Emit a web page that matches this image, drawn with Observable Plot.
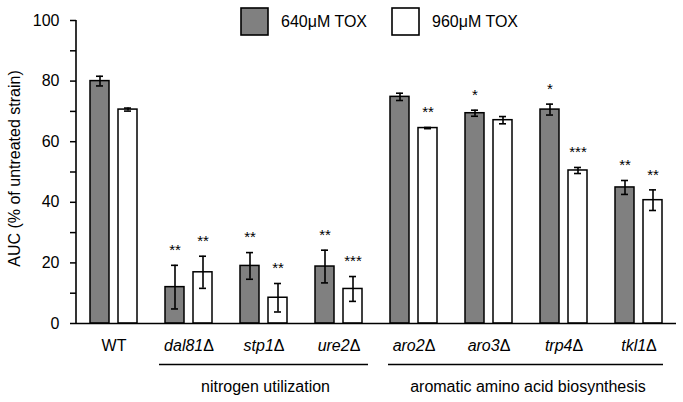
<!DOCTYPE html>
<html>
<head>
<meta charset="utf-8">
<script src="https://cdn.jsdelivr.net/npm/d3@7"></script>
<script src="https://cdn.jsdelivr.net/npm/@observablehq/plot@0.6"></script>
<style>
  body { margin: 0; background: #fff; }
  #chart svg { font-family: "Liberation Sans", Arial, sans-serif; }
</style>
</head>
<body>
<div id="chart"></div>
<script>
const strains = ["WT", "dal81", "stp1", "ure2", "aro2", "aro3", "trp4", "tkl1"];
const series = ["640μM TOX", "960μM TOX"];
const mean640 = [80.0, 12.0, 19.0, 18.8, 74.8, 69.4, 70.6, 44.9];
const err640  = [1.6, 7.2, 4.4, 5.4, 1.2, 1.0, 1.8, 2.3];
const sig640  = ["", "**", "**", "**", "", "*", "*", "**"];
const mean960 = [70.6, 16.9, 8.5, 11.4, 64.5, 67.1, 50.5, 40.7];
const err960  = [0.5, 5.3, 4.7, 4.1, 0.2, 1.2, 1.0, 3.4];
const sig960  = ["", "**", "**", "***", "**", "", "***", "**"];
const groupLabels = ["nitrogen utilization", "aromatic amino acid biosynthesis"];
const groupFrom = ["dal81", "aro2"];
const groupTo = ["ure2", "tkl1"];
const yMajor = [0, 20, 40, 60, 80, 100];
const yMinor = [10, 30, 50, 70, 90];

const d640 = strains.map((s, i) => ({strain: s, mean: mean640[i], lo: mean640[i] - err640[i], hi: mean640[i] + err640[i], sig: sig640[i]}));
const d960 = strains.map((s, i) => ({strain: s, mean: mean960[i], lo: mean960[i] - err960[i], hi: mean960[i] + err960[i], sig: sig960[i]}));
const groups = groupLabels.map((g, i) => ({label: g, from: groupFrom[i], to: groupTo[i]}));

const barW = 1.5;
const eb = 1.6;
const plot = Plot.plot({
  width: 683,
  height: 402,
  marginLeft: 76,
  marginRight: 7,
  marginTop: 20,
  marginBottom: 79,
  style: {fontFamily: "Liberation Sans, Arial, sans-serif", fontSize: "16px", color: "#000", background: "#fff"},
  x: {domain: strains, padding: 0, axis: null},
  y: {domain: [0, 100], axis: null},
  marks: [
    Plot.barY(d640, {x: "strain", y: "mean", fill: "#808080", stroke: "#000", strokeWidth: barW, insetLeft: 14, insetRight: 42}),
    Plot.barY(d960, {x: "strain", y: "mean", fill: "#fff", stroke: "#000", strokeWidth: barW, insetLeft: 42, insetRight: 14}),
    // error bars
    Plot.ruleX(d640, {x: "strain", y1: "lo", y2: "hi", dx: -14, stroke: "#000", strokeWidth: eb}),
    Plot.ruleX(d960, {x: "strain", y1: "lo", y2: "hi", dx: 14, stroke: "#000", strokeWidth: eb}),
    Plot.tickY(d640, {x: "strain", y: "lo", insetLeft: 20, insetRight: 48, stroke: "#000", strokeWidth: eb}),
    Plot.tickY(d640, {x: "strain", y: "hi", insetLeft: 20, insetRight: 48, stroke: "#000", strokeWidth: eb}),
    Plot.tickY(d960, {x: "strain", y: "lo", insetLeft: 48, insetRight: 20, stroke: "#000", strokeWidth: eb}),
    Plot.tickY(d960, {x: "strain", y: "hi", insetLeft: 48, insetRight: 20, stroke: "#000", strokeWidth: eb}),
    // significance stars
    Plot.text(d640, {x: "strain", y: "hi", text: "sig", dx: -14, dy: -15, fontSize: 15, fill: "#000"}),
    Plot.text(d960, {x: "strain", y: "hi", text: "sig", dx: 14, dy: -15, fontSize: 15, fill: "#000"}),
    // axes
    Plot.ruleY([0], {stroke: "#000", strokeWidth: 1.6}),
    Plot.axisY({ticks: yMajor, tickSize: 6, tickPadding: 11, tickFormat: d => d, label: null, fontSize: 16, strokeWidth: 1.5}),
    Plot.axisY({ticks: yMinor, tickSize: 6, tickFormat: () => "", label: null, strokeWidth: 1.5}),
    Plot.axisX({tickSize: 0, tickPadding: 16, label: null, fontSize: 16}),
    // group brackets
    Plot.ruleY(groups.slice(0, 1), {x1: "from", x2: "to", y: () => 0, insetLeft: 8, insetRight: 8, dy: 41, stroke: "#000", strokeWidth: 1.4}),
    Plot.ruleY(groups.slice(1), {x1: "from", x2: "to", y: () => 0, insetLeft: 12, insetRight: 13, dy: 41, stroke: "#000", strokeWidth: 1.4})
  ]
});

const svg = d3.select(plot);
const yS = plot.scale("y");
const xS = plot.scale("x");
const bw = xS.bandwidth;

// all tick labels at 16px, black
svg.selectAll("g[aria-label='y-axis tick label'] text, g[aria-label='x-axis tick label'] text")
  .attr("font-size", 16).attr("fill", "#000");

// left axis line
svg.append("line")
  .attr("x1", xS.range[0]).attr("x2", xS.range[0])
  .attr("y1", yS.apply(0)).attr("y2", yS.apply(100))
  .attr("stroke", "#000").attr("stroke-width", 1.6);

// italic strain names with upright delta
svg.selectAll("g[aria-label='x-axis tick label'] text").each(function() {
  const t = d3.select(this);
  const s = t.text();
  if (s !== "WT") {
    t.text(null);
    t.append("tspan").attr("font-style", "italic").text(s);
    t.append("tspan").text("Δ");
  }
});

// group labels centred under brackets
groups.forEach(g => {
  const cx = (xS.apply(g.from) + xS.apply(g.to) + bw) / 2;
  svg.append("text")
    .attr("x", cx + 2).attr("y", yS.apply(0) + 69)
    .attr("text-anchor", "middle").attr("font-size", 16).attr("fill", "#000")
    .text(g.label);
});

// y label
svg.append("text")
  .attr("transform", `translate(20,${(yS.apply(0) + yS.apply(100)) / 2 - 3}) rotate(-90)`)
  .attr("text-anchor", "middle")
  .attr("font-size", 16)
  .attr("fill", "#000")
  .text("AUC (% of untreated strain)");

// legend
const fills = ["#808080", "#fff"];
const legX = [241, 392];
series.forEach((s, i) => {
  svg.append("rect").attr("x", legX[i]).attr("y", 8).attr("width", 27).attr("height", 27)
    .attr("fill", fills[i]).attr("stroke", "#000").attr("stroke-width", 1.6);
  svg.append("text").attr("x", legX[i] + 40).attr("y", 27).attr("text-anchor", "start")
    .attr("font-size", 16).attr("fill", "#000").text(s);
});

document.getElementById("chart").appendChild(plot);
</script>
</body>
</html>
